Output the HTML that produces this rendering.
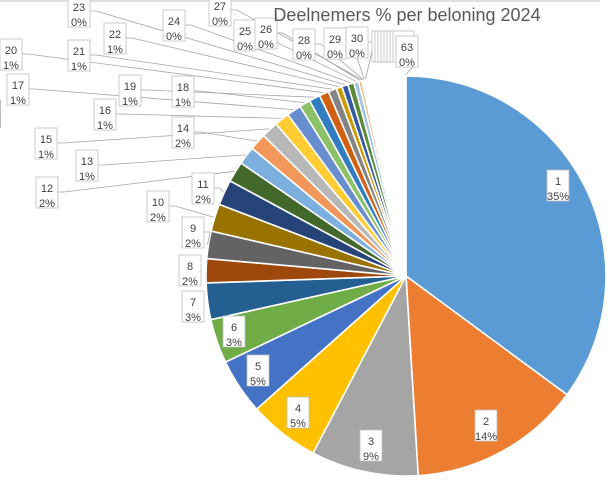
<!DOCTYPE html>
<html><head><meta charset="utf-8"><style>
html,body{margin:0;padding:0;background:#fff;}
svg{display:block;font-family:"Liberation Sans",sans-serif;}
</style></head><body>
<svg id="s" width="613" height="482" viewBox="0 0 613 482"></svg>
<script>
var s=document.getElementById('s'),cx=406,cy=276,R=200;
var b=[0,126.4,176.5,207.7,228.3,244.5,257.4,268,275,283,291,298.4,304.4,309.7,314.6,319.5,323.8,328,331.2,334.4,337.2,339.6,341.3,343.1,344.9,346.3,347.2];
var step=(360-347.2)/37;for(var i=1;i<=37;i++)b.push(347.2+step*i);
var pal=['#5B9BD5','#ED7D31','#A5A5A5','#FFC000','#4472C4','#70AD47','#255E91','#9E480E','#636363','#997300','#264478','#43682B','#7CAFDD','#F1975A','#B7B7B7','#FFCD33','#698ED0','#8CC168','#327DC2','#D26012','#848484','#CC9A00','#335AA1','#5A8A39','#9DC3E6','#F4B183','#C9C9C9','#FFD966','#8FAADC','#A9D18E','#1F4E79','#843C0C','#3B3B3B','#7F6000','#203864','#385723'];
function pt(a,r){a=a*Math.PI/180;return [cx+r*Math.sin(a),cy-r*Math.cos(a)];}
var h='<line x1="0" y1="1" x2="600" y2="1" stroke="#bfbfbf"/>';
for(var i=0;i<b.length-1;i++){var p=pt(b[i],R),q=pt(b[i+1],R),l=(b[i+1]-b[i])>180?1:0;
var small=i>=26;
h+='<path d="M'+cx+','+cy+'L'+p[0].toFixed(2)+','+p[1].toFixed(2)+'A'+R+','+R+' 0 '+l+' 1 '+q[0].toFixed(2)+','+q[1].toFixed(2)+'Z" fill="'+pal[i%pal.length]+'" fill-opacity="'+(small?0.45:1)+'" stroke="#fff" stroke-width="'+(small?1.2:1.6)+'"/>';}
var L=[[1,558,181],[2,486,421],[3,371,441],[4,298,408],[5,258,366],[6,234,327],[7,193,302],[8,190,266],[9,193,228],[10,158,202],[11,203,184],[12,47,188],[13,87,161],[14,183,128],[15,46,139],[16,105,110],[17,18,85],[18,183,87],[19,130,86],[20,11,50],[21,79,51],[22,115,34],[23,79,7],[24,174,21],[25,245,31],[26,266,29],[27,220,6],[28,304,40],[29,335,39],[30,357,38],[63,407,47]];
var lines='',boxes='';
for(var k=372;k<396;k+=3)boxes+='<rect x="'+k+'" y="31" width="21" height="31" fill="#fff" stroke="#bfbfbf" stroke-width="0.8"/>';
boxes+='<line x1="0.5" y1="100" x2="0.5" y2="128" stroke="#bfbfbf"/>';
L.forEach(function(o){var n=o[0],x=o[1],y=o[2];
var w=22,bx=x-w/2,by=y-11;
if(n>=9){var m=(b[n-1]+b[n])/2,t=pt(m,R+1),sx=bx+w,sy=by+15;
if(n==63){sx=x;sy=by+31;}
lines+='<polyline points="'+sx+','+sy+' '+(sx+6)+','+sy+' '+t[0].toFixed(1)+','+t[1].toFixed(1)+'" fill="none" stroke="#a6a6a6" stroke-width="0.8"/>';}
boxes+='<rect x="'+bx+'" y="'+by+'" width="'+w+'" height="31" fill="#fff" stroke="#bfbfbf" stroke-width="0.8"/>';
var pc=[35,14,9,5,5,3,3,2,2,2,2,2,1,2,1,1,1,1,1,1,1,1][n-1];if(pc===undefined)pc=0;
boxes+='<text x="'+x+'" y="'+(y+4)+'" font-size="11" fill="#404040" text-anchor="middle">'+n+'</text><text x="'+x+'" y="'+(y+19)+'" font-size="11" fill="#404040" text-anchor="middle">'+pc+'%</text>';});
h+=lines+boxes+'<text x="407" y="21" font-size="18" fill="#595959" text-anchor="middle">Deelnemers % per beloning 2024</text>';
s.innerHTML=h;
</script>
</body></html>
